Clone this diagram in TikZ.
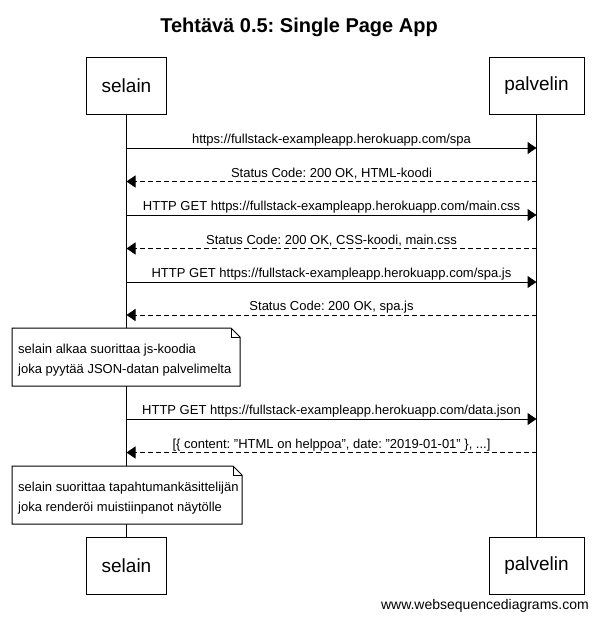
\documentclass[tikz,border=0pt]{standalone}
\usepackage{fontspec}
\setmainfont{Liberation Sans}
\usetikzlibrary{arrows.meta}
\frenchspacing
\begin{document}
\begin{tikzpicture}[x=1pt,y=-1pt,
  actor/.style={draw,line width=1pt,minimum height=57pt,inner sep=0pt,font=\fontsize{19}{22}\selectfont,fill=white},
  lifeline/.style={line width=1pt},
  req/.style={line width=1pt,-{Triangle[length=9pt,width=12pt]}},
  resp/.style={line width=1pt,dash pattern=on 5pt off 3pt,-{Triangle[length=9pt,width=12pt]}},
  lbl/.style={font=\fontsize{13}{15}\selectfont,anchor=base,inner sep=0pt,yshift=4.5pt},
  notetext/.style={font=\fontsize{13}{19.5}\selectfont,align=left,inner sep=0pt,anchor=west}
]
\useasboundingbox (0,0) rectangle (598,619);
% title
\node[font=\bfseries\fontsize{20}{24}\selectfont,anchor=base] (title) at (299,32) {Tehtävä 0.5: Single Page App};
% participants
\node[actor,minimum width=80pt] (s1) at (126.5,85.5) {selain};
\node[actor,minimum width=95pt] (p1) at (536.5,85.5) {palvelin};
\node[actor,minimum width=80pt] (s2) at (126.5,565.5) {selain};
\node[actor,minimum width=95pt] (p2) at (536.5,565.5) {palvelin};
\draw[lifeline] (s1.south) -- (s2.north);
\draw[lifeline] (p1.south) -- (p2.north);
% message anchors
\foreach \n/\y in {1/148,2/181.5,3/215,4/248.5,5/282,6/315,7/419,8/452.5}{
  \coordinate (s\n) at (126.5,\y);
  \coordinate (p\n) at (536.5,\y);
}
\draw[req] (s1) -- (p1) node[lbl,pos=0.5] (m1) {https://fullstack-exampleapp.herokuapp.com/spa};
\draw[resp] (p2) -- (s2) node[lbl,pos=0.5] (m2) {Status Code: 200 OK, HTML-koodi};
\draw[req] (s3) -- (p3) node[lbl,pos=0.5] (m3) {HTTP GET https://fullstack-exampleapp.herokuapp.com/main.css};
\draw[resp] (p4) -- (s4) node[lbl,pos=0.5] (m4) {Status Code: 200 OK, CSS-koodi, main.css};
\draw[req] (s5) -- (p5) node[lbl,pos=0.5] (m5) {HTTP GET https://fullstack-exampleapp.herokuapp.com/spa.js};
\draw[resp] (p6) -- (s6) node[lbl,pos=0.5] (m6) {Status Code: 200 OK, spa.js};
\draw[req] (s7) -- (p7) node[lbl,pos=0.5] (m7) {HTTP GET https://fullstack-exampleapp.herokuapp.com/data.json};
\draw[resp] (p8) -- (s8) node[lbl,pos=0.5] (m8) {[\{ content: {\char34}HTML on helppoa{\char34}, date: {\char34}2019-01-01{\char34} \}, ...]};
% note 1
\draw[line width=1pt,fill=white] (12,328) -- (231,328) -- (240,337) -- (240,386) -- (12,386) -- cycle;
\draw[line width=1pt] (231,328) -- (231,337) -- (240,337);
\node[notetext] (n1) at (18,360) {selain alkaa suorittaa js-koodia\\joka pyytää JSON-datan palvelimelta};
% note 2
\draw[line width=1pt,fill=white] (12,466) -- (233,466) -- (242,475) -- (242,524) -- (12,524) -- cycle;
\draw[line width=1pt] (233,466) -- (233,475) -- (242,475);
\node[notetext] (n2) at (18,498) {selain suorittaa tapahtumankäsittelijän\\joka renderöi muistiinpanot näytölle};
% footer
\node[font=\fontsize{14}{16}\selectfont,anchor=base east,inner sep=0pt] (foot) at (589,609) {www.websequencediagrams.com};
\end{tikzpicture}
\end{document}
